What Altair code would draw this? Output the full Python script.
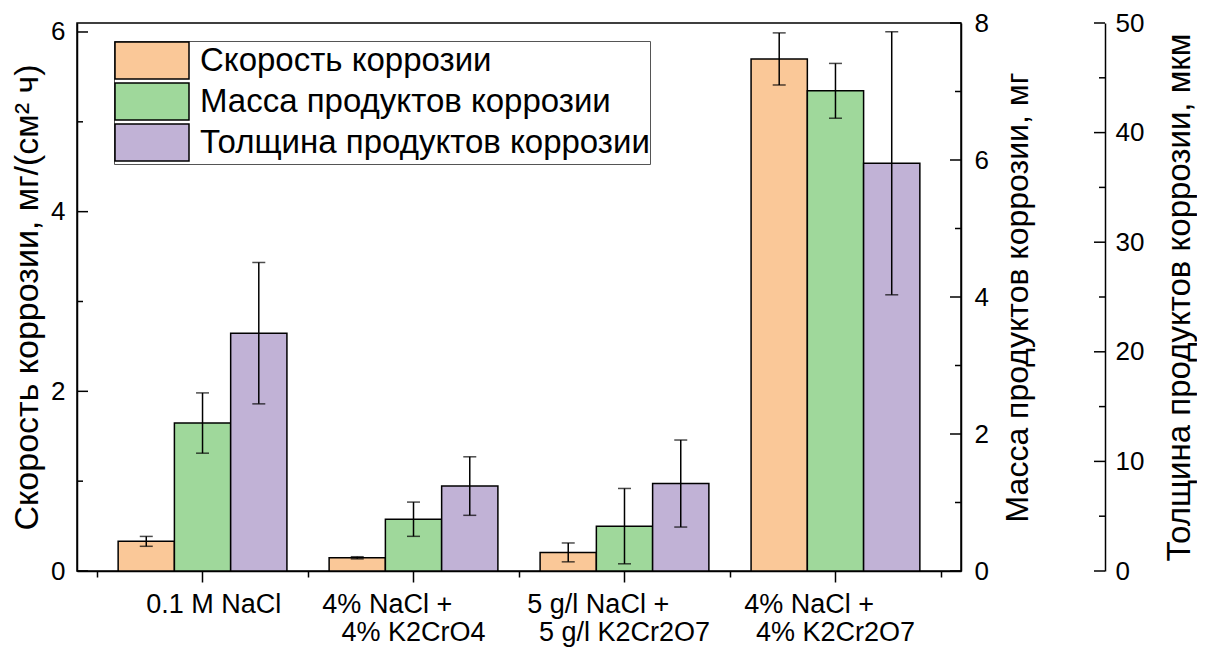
import altair as alt
import pandas as pd

# ---------------- data ----------------
cat_line1 = ["0.1 M NaCl", "4% NaCl +", "5 g/l NaCl +", "4% NaCl +"]
cat_line2 = ["", "4% K2CrO4", "5 g/l K2Cr2O7", "4% K2Cr2O7"]
series = ["Скорость коррозии", "Масса продуктов коррозии", "Толщина продуктов коррозии"]

rate = [0.33, 0.147, 0.207, 5.70]
rate_err = [0.055, 0.012, 0.105, 0.29]
mass = [2.16, 0.756, 0.655, 7.01]
mass_err = [0.44, 0.25, 0.55, 0.40]
thick = [21.7, 7.75, 7.98, 37.2]
thick_err = [6.45, 2.67, 3.97, 12.0]

rate_ticks_major = [0, 2, 4, 6]
rate_ticks_minor = [1, 3, 5]
mass_ticks_major = [0, 2, 4, 6, 8]
mass_ticks_minor = [1, 3, 5, 7]
thick_ticks_major = [0, 10, 20, 30, 40, 50]
thick_ticks_minor = [5, 15, 25, 35, 45]

colors = ["#FAC898", "#9FD89B", "#C1B2D6"]

# ---------------- layout ----------------
W, H = 884, 548
OFF3 = 144
MAJ, MIN = 11, 6
FONT = "Liberation Sans"
NB = "\u00a0"
ZW = "\u200b"


def make_label(i):
    if cat_line2[i]:
        return cat_line1[i] + NB * 7 + ZW + "\n" + cat_line2[i]
    return ZW + NB * 3 + cat_line1[i]


cats = [make_label(i) for i in range(len(cat_line1))]

xscale = alt.Scale(paddingInner=0, paddingOuter=0.095)
xoff = alt.XOffset("series:N", scale=alt.Scale(domain=series, paddingInner=0, paddingOuter=0.375))

x_axis_major = alt.Axis(
    orient="bottom", title=None, labelExpr="split(datum.label, '\\n')", labelAngle=0,
    labelFontSize=27, labelColor="black", labelPadding=9, labelLineHeight=28, labelLimit=400,
    tickSize=MAJ, tickWidth=1.5, tickColor="black", domainColor="black", domainWidth=1.5, grid=False,
)

legend = alt.Legend(
    orient="none", legendX=37, legendY=18, title=None,
    symbolType="M-1,-1H3V1H-1Z", symbolSize=1369, symbolStrokeColor="black", symbolStrokeWidth=1.5,
    labelFontSize=33, labelColor="black", labelOffset=47, labelLimit=1000, rowPadding=-8,
    padding=0, strokeColor="#555555", fillColor="white",
)


def series_layer(idx, values, errs, domain, axis, tmaj, tmin, xpos, xdir, with_x_axis):
    name = series[idx]
    df = pd.DataFrame({
        "cat": cats,
        "series": name,
        "v": values,
        "lo": [v - e for v, e in zip(values, errs)],
        "hi": [v + e for v, e in zip(values, errs)],
    })
    base = alt.Chart(df)
    ys = alt.Scale(domain=domain, nice=False, zero=True)
    xe = alt.X("cat:N", sort=cats, scale=xscale, axis=x_axis_major if with_x_axis else None)
    bar = base.mark_bar(stroke="black", strokeWidth=1.5).encode(
        x=xe, xOffset=xoff,
        y=alt.Y("v:Q", scale=ys, axis=axis),
        color=alt.Color("series:N", scale=alt.Scale(domain=series, range=colors), legend=legend),
    )
    err = base.mark_rule(color="black", strokeWidth=1.5).encode(
        x=xe, xOffset=xoff, y=alt.Y("lo:Q", scale=ys, axis=axis), y2="hi:Q"
    )
    cap_hi = base.mark_tick(color="black", thickness=1.5, size=13).encode(
        x=xe, xOffset=xoff, y=alt.Y("hi:Q", scale=ys, axis=axis)
    )
    cap_lo = base.mark_tick(color="black", thickness=1.5, size=13).encode(
        x=xe, xOffset=xoff, y=alt.Y("lo:Q", scale=ys, axis=axis)
    )
    tk_major = alt.Chart(pd.DataFrame({"t": tmaj})).mark_rule(color="black", strokeWidth=1.5).encode(
        x=alt.value(xpos), x2=alt.value(xpos + xdir * MAJ), y=alt.Y("t:Q", scale=ys, axis=axis)
    )
    tk_minor = alt.Chart(pd.DataFrame({"t": tmin})).mark_rule(color="black", strokeWidth=1.5).encode(
        x=alt.value(xpos), x2=alt.value(xpos + xdir * MIN), y=alt.Y("t:Q", scale=ys, axis=axis)
    )
    return alt.layer(bar, err, cap_hi, cap_lo, tk_major, tk_minor)


common_axis = dict(
    ticks=False, tickSize=0, grid=False, domainColor="black", domainWidth=1.5,
    labelFontSize=26, labelColor="black", titleColor="black",
    titleFontWeight="normal",
)

axis_rate = alt.Axis(
    orient="left", title="Скорость коррозии, мг/(см² ч)", values=rate_ticks_major,
    labelPadding=12, titlePadding=6, titleFontSize=34, **common_axis,
)
axis_mass = alt.Axis(
    orient="right", title="Масса продуктов коррозии, мг", values=mass_ticks_major,
    labelPadding=13, titlePadding=14, titleFontSize=32, titleAngle=270, titleBaseline="top",
    **common_axis,
)
axis_thick = alt.Axis(
    orient="right", offset=OFF3, title="Толщина продуктов коррозии, мкм", values=thick_ticks_major,
    labelPadding=10, titlePadding=20, titleFontSize=33, titleAngle=270, titleBaseline="top",
    **common_axis,
)

L1 = series_layer(0, rate, rate_err, [0, 6.1], axis_rate, rate_ticks_major, rate_ticks_minor, 0, 1, True)
L2 = series_layer(1, mass, mass_err, [0, 8], axis_mass, mass_ticks_major, mass_ticks_minor, W, -1, False)
L3 = series_layer(2, thick, thick_err, [0, 50], axis_thick, thick_ticks_major, thick_ticks_minor,
                  W + OFF3, -1, False)

minor_x = alt.Chart(pd.DataFrame({"cat": cats})).mark_point(opacity=0).encode(
    x=alt.X("cat:N", sort=cats, scale=xscale, axis=alt.Axis(
        orient="bottom", title=None, labels=False, domain=False, tickBand="extent",
        tickSize=MIN, tickWidth=1.5, tickColor="black", grid=False,
    ))
)

chart = (
    alt.layer(L1, L2, L3, minor_x)
    .resolve_scale(y="independent")
    .resolve_axis(x="independent")
    .properties(
        width=W, height=H, autosize=alt.AutoSizeParams(type="none"),
        padding={"left": 69, "top": 15, "right": 236, "bottom": 76},
    )
    .configure(font=FONT)
    .configure_view(stroke="black", strokeWidth=1.5)
)

chart.save("out.html", embed_options={"renderer": "svg", "actions": False})
